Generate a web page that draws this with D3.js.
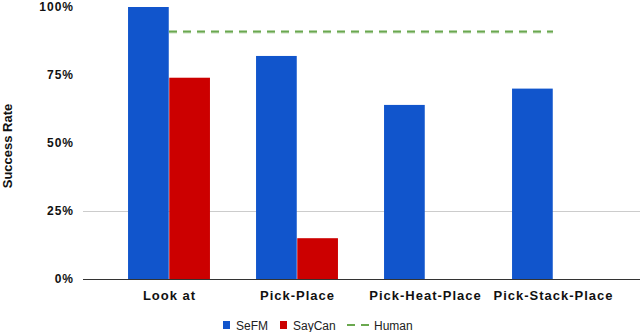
<!DOCTYPE html>
<html><head><meta charset="utf-8">
<script src="https://cdn.jsdelivr.net/npm/d3@7"></script>
<style>body{margin:0;background:#fff;}svg{display:block;font-family:Arial,"Liberation Sans",sans-serif;}</style>
</head><body><svg id="c" width="640" height="332"></svg>
<script>
const categories = ["Look at", "Pick-Place", "Pick-Heat-Place", "Pick-Stack-Place"];
const seriesNames = ["SeFM", "SayCan"];
const sefm = [1.00, 0.82, 0.64, 0.70];
const saycan = [0.74, 0.15, null, null];
const human = 0.91;
const yTicks = [0, 0.25, 0.5, 0.75, 1.0];
const colors = {SeFM: "#1155cc", SayCan: "#cc0000", Human: "#6aa84f"};

const svg = d3.select("#c");
const x = d3.scaleBand().domain(categories).range([105, 617]).paddingInner(0.36).paddingOuter(0.18);
const xs = d3.scaleBand().domain(seriesNames).range([0, x.bandwidth()]).paddingInner(0.012);
const y = d3.scaleLinear().domain([0, 1]).range([279, 7]);

// gridline (25%)
svg.append("line").attr("x1", 83).attr("x2", 640).attr("y1", y(0.25)).attr("y2", y(0.25))
  .attr("stroke", "#cccccc").attr("stroke-width", 1).attr("shape-rendering","crispEdges");

const data = [];
categories.forEach((c, i) => {
  data.push({cat: c, s: "SeFM", v: sefm[i]});
  if (saycan[i] != null) data.push({cat: c, s: "SayCan", v: saycan[i]});
});
svg.append("g").selectAll("rect").data(data).join("rect")
  .attr("x", d => x(d.cat) + xs(d.s)).attr("width", xs.bandwidth())
  .attr("y", d => y(d.v)).attr("height", d => y(0) - y(d.v)).attr("fill", d => colors[d.s]);

// baseline
svg.append("line").attr("x1", 83).attr("x2", 640).attr("y1", y(0)+0.5).attr("y2", y(0)+0.5)
  .attr("stroke", "#333333").attr("stroke-width", 1);

// human line
const hx1 = x(categories[0]) + x.bandwidth()/2, hx2 = x(categories[3]) + x.bandwidth()/2;
svg.append("line").attr("x1", hx1).attr("x2", hx2).attr("y1", y(human)+1).attr("y2", y(human)+1)
  .attr("stroke", "#c9dfc0").attr("stroke-width", 2).attr("stroke-dasharray", "8,6");
svg.append("line").attr("x1", hx1).attr("x2", hx2).attr("y1", y(human)).attr("y2", y(human))
  .attr("stroke", colors.Human).attr("stroke-width", 2).attr("stroke-dasharray", "8,6");

// y axis labels
const yAxis = d3.axisLeft(y).tickValues(yTicks).tickFormat(d3.format(".0%")).tickSize(0).tickPadding(0);
const ya = svg.append("g").attr("transform", "translate(74,0)").call(yAxis);
ya.select(".domain").remove();
ya.selectAll("text").attr("font-size", 12).attr("font-weight", "bold").attr("fill", "#111")
  .attr("font-family", "Arial").attr("letter-spacing", "1px");

// x labels
const xAxis = d3.axisBottom(x).tickSize(0).tickPadding(0);
const xa = svg.append("g").attr("transform", "translate(0.5,291)").call(xAxis);
xa.select(".domain").remove();
xa.selectAll("text").attr("font-size", 13).attr("font-weight", "bold").attr("fill", "#111")
  .attr("font-family", "Arial").attr("letter-spacing", "1px");

// y title
svg.append("text").attr("transform", "translate(12,146) rotate(-90)").attr("text-anchor", "middle")
  .attr("font-size", 13).attr("font-weight", "bold").attr("fill", "#111").text("Success Rate");

// legend
const lg = svg.append("g").attr("font-size", 12).attr("fill", "#222");
const legendItems = [{n: "SeFM", x: 223}, {n: "SayCan", x: 280}, {n: "Human", x: 347}];
legendItems.forEach(it => {
  if (it.n === "Human") {
    lg.append("line").attr("x1", it.x).attr("x2", it.x+23).attr("y1", 325).attr("y2", 325)
      .attr("stroke", colors.Human).attr("stroke-width", 2).attr("stroke-dasharray", "8,6");
    lg.append("text").attr("x", it.x + 27).attr("y", 329.5).text(it.n);
  } else {
    lg.append("rect").attr("x", it.x).attr("y", 321).attr("width", 7).attr("height", 8).attr("fill", colors[it.n]);
    lg.append("text").attr("x", it.x + 13).attr("y", 329.5).text(it.n);
  }
});
</script></body></html>
